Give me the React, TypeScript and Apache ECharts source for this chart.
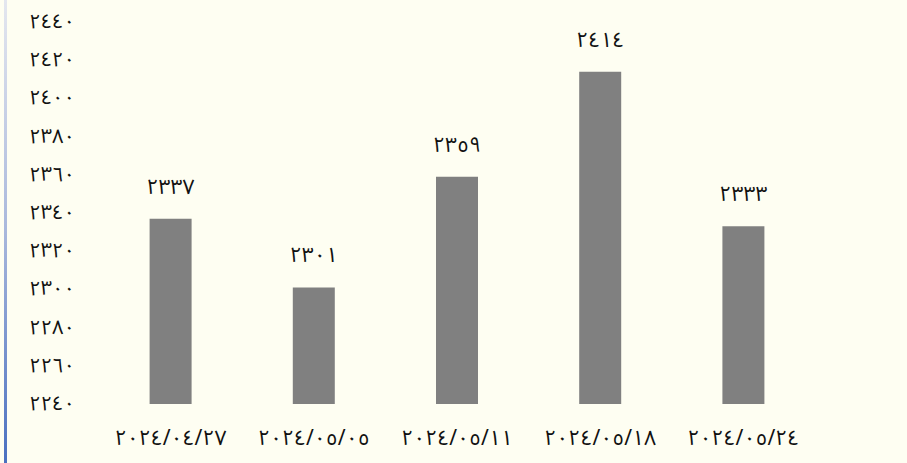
import React, { useEffect, useRef } from "react";
import * as echarts from "echarts";

const categories = ["2024/04/27", "2024/05/05", "2024/05/11", "2024/05/18", "2024/05/24"];
const values = [2337, 2301, 2359, 2414, 2333];
const yMin = 2240;
const yMax = 2440;
const yStep = 20;

const AR = ["٠", "١", "٢", "٣", "٤", "٥", "٦", "٧", "٨", "٩"];
const toArabic = (s: string | number) =>
  String(s).replace(/[0-9]/g, (d) => AR[Number(d)]);

export default function App() {
  const ref = useRef<HTMLDivElement>(null);
  useEffect(() => {
    if (!ref.current) return;
    const chart = echarts.init(ref.current, undefined, { renderer: "svg" });
    const font = "Noto Sans Arabic";
    chart.setOption({
      animation: false,
      backgroundColor: "#FEFEF2",
      graphic: [
        {
          type: "rect",
          shape: { x: 4, y: 0, width: 3, height: 463 },
          style: {
            fill: new echarts.graphic.LinearGradient(0, 0, 0, 1, [
              { offset: 0, color: "#E4E7EF" },
              { offset: 0.5, color: "#A9B8DC" },
              { offset: 1, color: "#4A70C0" },
            ]),
          },
          silent: true,
        },
      ],
      grid: { left: 99, right: 92, top: 22, bottom: 59 },
      xAxis: {
        type: "category",
        data: categories,
        axisLine: { show: false },
        axisTick: { show: false },
        axisLabel: {
          interval: 0,
          hideOverlap: false,
          formatter: (v: string) => toArabic(v),
          color: "#111",
          fontFamily: font,
          fontSize: 21,
          lineHeight: 24,
          margin: 22,
        },
      },
      yAxis: {
        type: "value",
        min: yMin,
        max: yMax,
        interval: yStep,
        axisLine: { show: false },
        axisTick: { show: false },
        splitLine: { show: false },
        axisLabel: {
          formatter: (v: number) => toArabic(v),
          color: "#111",
          fontFamily: font,
          fontSize: 20,
          lineHeight: 22,
          margin: 24,
        },
      },
      series: [
        {
          type: "bar",
          data: values,
          barWidth: 42,
          itemStyle: { color: "#808080" },
          label: {
            show: true,
            position: "top",
            distance: 20,
            formatter: (p: any) => toArabic(p.value),
            color: "#111",
            fontFamily: font,
            fontSize: 21,
            lineHeight: 24,
          },
        },
      ],
    });
    return () => chart.dispose();
  }, []);
  return (
    <div
      ref={ref}
      style={{ position: "absolute", left: 0, top: 0, width: 907, height: 463 }}
    />
  );
}
